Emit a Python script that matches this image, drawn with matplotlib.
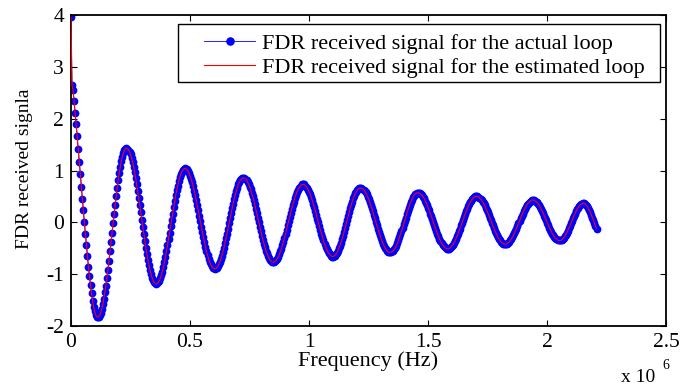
import numpy as np
import matplotlib
matplotlib.use("Agg")
import matplotlib.pyplot as plt
from matplotlib.patches import Rectangle

# ---------------- data ----------------
tone_spacing_hz = 4312.5          # one sample per DSL tone

actual_signal = [
    3.96, 2.64, 2.55, 2.35, 2.11, 1.90, 1.66, 1.41, 1.16, 0.93,
    0.69, 0.45, 0.23, 0.00, -0.22, -0.44, -0.65, -0.86, -1.04, -1.21,
    -1.37, -1.51, -1.63, -1.72, -1.78, -1.82, -1.83,
    -1.82, -1.79, -1.74, -1.67, -1.58, -1.47, -1.35, -1.22, -1.07, -0.91,
    -0.74, -0.56, -0.38, -0.20, -0.02, 0.16, 0.34, 0.51, 0.67, 0.82,
    0.95, 1.07, 1.18, 1.27, 1.34, 1.39, 1.42, 1.43,
    1.42, 1.40, 1.36, 1.31, 1.24, 1.16, 1.07, 0.97, 0.86, 0.73,
    0.60, 0.47, 0.33, 0.19, 0.05, -0.09, -0.23, -0.36, -0.49, -0.62,
    -0.73, -0.83, -0.92, -1.00, -1.07, -1.12, -1.16, -1.18, -1.19,
    -1.18, -1.16, -1.13, -1.08, -1.02, -0.95, -0.86, -0.77, -0.67, -0.56,
    -0.44, -0.32, -0.20, -0.08, 0.05, 0.17, 0.29, 0.41, 0.52, 0.62,
    0.71, 0.80, 0.87, 0.93, 0.98, 1.01, 1.03, 1.04,
    1.03, 1.02, 0.99, 0.95, 0.90, 0.84, 0.77, 0.70, 0.61, 0.52,
    0.43, 0.33, 0.23, 0.12, 0.02, -0.09, -0.19, -0.29, -0.38, -0.47,
    -0.56, -0.63, -0.70, -0.76, -0.81, -0.85, -0.88, -0.89, -0.90,
    -0.89, -0.88, -0.85, -0.81, -0.77, -0.71, -0.64, -0.57, -0.49, -0.40,
    -0.31, -0.22, -0.12, -0.02, 0.08, 0.18, 0.27, 0.36, 0.45, 0.53,
    0.60, 0.67, 0.73, 0.77, 0.81, 0.84, 0.85, 0.86,
    0.85, 0.84, 0.82, 0.78, 0.74, 0.69, 0.64, 0.57, 0.50, 0.43,
    0.35, 0.26, 0.18, 0.09, 0.00, -0.09, -0.17, -0.26, -0.34, -0.41,
    -0.48, -0.55, -0.60, -0.65, -0.69, -0.73, -0.75, -0.76, -0.77,
    -0.77, -0.75, -0.73, -0.70, -0.66, -0.62, -0.56, -0.51, -0.44, -0.37,
    -0.30, -0.22, -0.14, -0.06, 0.02, 0.10, 0.18, 0.26, 0.33, 0.40,
    0.47, 0.52, 0.58, 0.62, 0.66, 0.69, 0.71, 0.73, 0.73,
    0.73, 0.71, 0.69, 0.67, 0.63, 0.59, 0.54, 0.49, 0.43, 0.36,
    0.29, 0.22, 0.15, 0.07, 0.00, -0.08, -0.15, -0.22, -0.29, -0.35,
    -0.42, -0.47, -0.52, -0.56, -0.60, -0.62, -0.64, -0.66, -0.66,
    -0.65, -0.64, -0.62, -0.59, -0.55, -0.50, -0.45, -0.39, -0.33, -0.26,
    -0.19, -0.11, -0.04, 0.04, 0.12, 0.19, 0.27, 0.33, 0.40, 0.46,
    0.51, 0.56, 0.59, 0.62, 0.65, 0.66, 0.66,
    0.66, 0.65, 0.63, 0.61, 0.58, 0.54, 0.49, 0.45, 0.39, 0.33,
    0.27, 0.21, 0.14, 0.08, 0.01, -0.06, -0.12, -0.19, -0.25, -0.31,
    -0.36, -0.41, -0.45, -0.49, -0.52, -0.55, -0.57, -0.58, -0.58,
    -0.58, -0.56, -0.55, -0.52, -0.49, -0.45, -0.40, -0.35, -0.29, -0.23,
    -0.17, -0.11, -0.04, 0.03, 0.09, 0.16, 0.22, 0.28, 0.34, 0.39,
    0.44, 0.48, 0.51, 0.54, 0.55, 0.57, 0.57,
    0.57, 0.56, 0.54, 0.52, 0.49, 0.46, 0.42, 0.38, 0.33, 0.28,
    0.23, 0.17, 0.12, 0.06, 0.00, -0.06, -0.11, -0.17, -0.22, -0.27,
    -0.32, -0.36, -0.40, -0.43, -0.46, -0.48, -0.50, -0.51, -0.51,
    -0.51, -0.50, -0.48, -0.46, -0.43, -0.40, -0.36, -0.32, -0.27, -0.22,
    -0.17, -0.12, -0.06, -0.01, 0.05, 0.11, 0.16, 0.21, 0.26, 0.31,
    0.35, 0.39, 0.42, 0.45, 0.47, 0.49, 0.50, 0.50,
    0.50, 0.49, 0.47, 0.45, 0.43, 0.40, 0.37, 0.33, 0.28, 0.24,
    0.19, 0.14, 0.09, 0.04, -0.01, -0.06, -0.11, -0.16, -0.20, -0.25,
    -0.29, -0.32, -0.35, -0.37, -0.39, -0.41, -0.42, -0.42,
    -0.42, -0.41, -0.39, -0.38, -0.35, -0.32, -0.29, -0.25, -0.21, -0.16,
    -0.12, -0.07, -0.02, 0.03, 0.08, 0.13, 0.17, 0.22, 0.26, 0.30,
    0.33, 0.36, 0.38, 0.40, 0.42, 0.43, 0.43,
    0.43, 0.42, 0.40, 0.39, 0.36, 0.33, 0.30, 0.26, 0.22, 0.18,
    0.13, 0.09, 0.04, -0.01, -0.05, -0.10, -0.14, -0.18, -0.22, -0.25,
    -0.28, -0.31, -0.32, -0.34, -0.35, -0.35,
    -0.35, -0.34, -0.32, -0.30, -0.27, -0.24, -0.20, -0.16, -0.11, -0.07,
    -0.02, 0.03, 0.08, 0.13, 0.17, 0.21, 0.25, 0.28, 0.31, 0.34,
    0.35, 0.36, 0.37,
    0.37, 0.35, 0.33, 0.31, 0.27, 0.23, 0.19, 0.14, 0.09, 0.04,
    -0.02, -0.07, -0.12,
]
# the estimated loop overlays the actual loop exactly in the reference
estimated_signal = list(actual_signal)

series_labels = ["FDR received signal for the actual loop",
                 "FDR received signal for the estimated loop"]
x_ticks = [0, 0.5e6, 1.0e6, 1.5e6, 2.0e6, 2.5e6]
x_tick_labels = ["0", "0.5", "1", "1.5", "2", "2.5"]
y_ticks = [-2, -1, 0, 1, 2, 3, 4]
y_tick_labels = ["-2", "-1", "0", "1", "2", "3", "4"]

# ---------------- drawing ----------------
plt.rcParams['font.family'] = ['Liberation Serif', 'DejaVu Serif']
W, H = 683, 388
fig = plt.figure(figsize=(W / 100, H / 100), dpi=100)
ax = fig.add_axes([71 / W, 1 - 326 / H, (666 - 71) / W, (326 - 15) / H])

freq = np.arange(len(actual_signal)) * tone_spacing_hz
ax.plot(freq, actual_signal, color='blue', lw=0.6, marker='o', ms=5.6,
        mfc='blue', mec='blue', mew=0, label=series_labels[0], zorder=2)
ax.plot(freq, estimated_signal, color='red', lw=0.8,
        label=series_labels[1], zorder=3)

ax.set_xlim(0, 2.5e6)
ax.set_ylim(-2, 4)
ax.set_xticks(x_ticks)
ax.set_xticklabels(x_tick_labels)
ax.set_yticks(y_ticks)
ax.set_yticklabels(y_tick_labels)
ax.tick_params(direction='in', top=True, right=True, length=4, width=0.8,
               labelsize=15.5, pad=5)
for s in ax.spines.values():
    s.set_linewidth(1.3)

ax.set_xlabel("Frequency (Hz)", fontsize=16)
ax.xaxis.set_label_coords(0.5, (326 - 351) / 311)
ax.set_ylabel("FDR received signla", fontsize=14)
ax.yaxis.set_label_coords((33 - 71) / 595, (326 - 169) / 311)

# legend: frame drawn at the reference position, entries placed inside
frame = Rectangle((178 / W, 1 - 82 / H), (660 - 178) / W, (82 - 24) / H,
                  transform=fig.transFigure, facecolor='white',
                  edgecolor='black', linewidth=1.0, zorder=5, clip_on=False)
ax.add_patch(frame)
leg = ax.legend(loc='upper left', bbox_to_anchor=(204 / W, 1 - 33 / H),
                bbox_transform=fig.transFigure, borderaxespad=0, borderpad=0,
                fontsize=16, frameon=False, handlelength=2.3, handletextpad=0.3,
                labelspacing=0.17, markerscale=1.1)
leg.set_zorder(6)

fig.text(621 / W, 1 - 386 / H, "x 10", fontsize=14, ha='left', va='bottom')
fig.text(662 / W, 1 - 372 / H, "6", fontsize=10, ha='left', va='bottom')

fig.savefig("out.png", dpi=100)
